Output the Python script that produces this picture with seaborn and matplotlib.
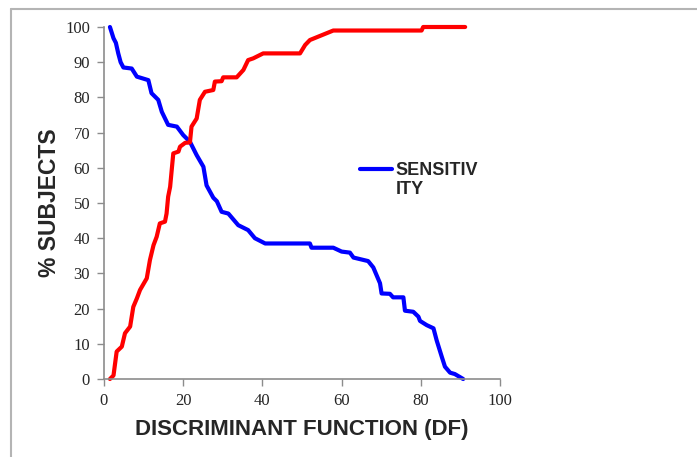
import matplotlib
matplotlib.use("Agg")
import matplotlib.pyplot as plt
import seaborn as sns
import pandas as pd
from matplotlib.lines import Line2D

# curvas
sens_x = [1.5, 2.4, 3.0, 3.6, 4.2, 4.9, 7.0, 8.3, 11.2, 12.0, 13.7, 14.6, 16.2, 18.4,
          20.0, 21.7, 23.4, 25.1, 25.9, 27.6, 28.5, 29.7, 31.4, 33.9, 36.4, 38.1, 40.7,
          52.0, 52.4, 57.9, 60.0, 62.1, 63.0, 66.7, 68.0, 69.7, 70.1, 72.2, 73.0, 75.6,
          76.0, 78.1, 79.4, 79.8, 81.5, 83.2, 84.0, 85.3, 86.1, 87.4, 88.6, 90.7]
sens_y = [100, 96.8, 95.5, 92.5, 90.0, 88.5, 88.2, 85.9, 84.9, 81.2, 79.3, 75.9, 72.2, 71.7,
          69.3, 67.4, 63.6, 60.3, 55.0, 51.5, 50.5, 47.5, 47.0, 43.7, 42.3, 40.0, 38.5,
          38.5, 37.3, 37.3, 36.2, 35.9, 34.5, 33.5, 31.7, 27.2, 24.3, 24.2, 23.2, 23.2,
          19.4, 19.1, 17.7, 16.5, 15.3, 14.4, 11.0, 6.3, 3.5, 1.8, 1.4, 0]

spec_x = [1.5, 2.4, 3.2, 4.5, 5.3, 6.6, 7.4, 8.3, 9.1, 10.8, 11.6, 12.5, 13.3, 14.1, 15.4,
          15.8, 16.2, 16.7, 17.1, 17.5, 18.8, 19.2, 20.5, 21.7, 22.1, 23.4, 24.2, 25.5,
          27.6, 28.0, 29.7, 30.1, 33.5, 35.2, 36.4, 37.7, 40.2, 49.5, 50.8, 52.0, 57.9,
          80.2, 80.6, 91.2]
spec_y = [0, 1, 7.8, 9.2, 13, 14.9, 20.5, 22.9, 25.3, 28.6, 33.8, 38, 40.4, 44.2, 44.7,
          47, 51.8, 54.6, 59.4, 64.1, 64.6, 66, 67.1, 67.2, 71.7, 74, 79.3, 81.6,
          82.1, 84.5, 84.6, 85.7, 85.7, 87.8, 90.6, 91.1, 92.5, 92.5, 94.9, 96.3, 99,
          99, 100, 100]

x_ticks = [0, 20, 40, 60, 80, 100]
y_ticks = [0, 10, 20, 30, 40, 50, 60, 70, 80, 90, 100]

sens = pd.DataFrame({"df": sens_x, "pct": sens_y})
spec = pd.DataFrame({"df": spec_x, "pct": spec_y})

sns.set_style("white")
plt.rcParams['font.family'] = ['Liberation Sans', 'DejaVu Sans']

fig = plt.figure(figsize=(6.97, 4.57), dpi=100)
ax = fig.add_axes([104 / 697, 1 - 379 / 457, 396 / 697, 352 / 457])

sns.lineplot(data=sens, x="df", y="pct", sort=False, estimator=None, color="#0000ff",
             linewidth=3, label="SENSITIV\nITY", ax=ax, clip_on=False)
sns.lineplot(data=spec, x="df", y="pct", sort=False, estimator=None, color="#ff0000",
             linewidth=3, ax=ax, clip_on=False)

ax.set_xlim(0, 100)
ax.set_ylim(0, 100)
ax.set_xticks(x_ticks)
ax.set_yticks(y_ticks)
for s in ["top", "right"]:
    ax.spines[s].set_visible(False)
for s in ["left", "bottom"]:
    ax.spines[s].set_color("#8c8c8c")
    ax.spines[s].set_linewidth(1.2)
ax.tick_params(axis="both", direction="out", length=5, width=1, color="#8c8c8c",
               labelsize=12, pad=5, left=True, bottom=True)
for lab in ax.get_xticklabels() + ax.get_yticklabels():
    lab.set_family("Liberation Serif")

ax.set_xlabel("DISCRIMINANT FUNCTION (DF)", fontsize=16, fontweight="bold", labelpad=7)
ax.set_ylabel("% SUBJECTS", fontsize=16.5, fontweight="bold", labelpad=3)

leg = ax.legend(loc="upper left", bbox_to_anchor=(0.646, 0.617), frameon=False,
                fontsize=13, handlelength=1.8, handletextpad=0.2, borderpad=0,
                borderaxespad=0, handleheight=1.1)
for t in leg.get_texts():
    t.set_fontweight("bold")
# la línea de la leyenda va a la altura de la primera línea del texto
for row in leg._legend_handle_box.get_children()[0].get_children():
    row.align = "top"

# marco gris alrededor
fig.add_artist(Line2D([11 / 697, 1], [1 - 9 / 457, 1 - 9 / 457], color="#b4b4b4", lw=1.5))
fig.add_artist(Line2D([11 / 697, 11 / 697], [0, 1 - 9 / 457], color="#b4b4b4", lw=1.5))

fig.savefig("out.png", dpi=100)
